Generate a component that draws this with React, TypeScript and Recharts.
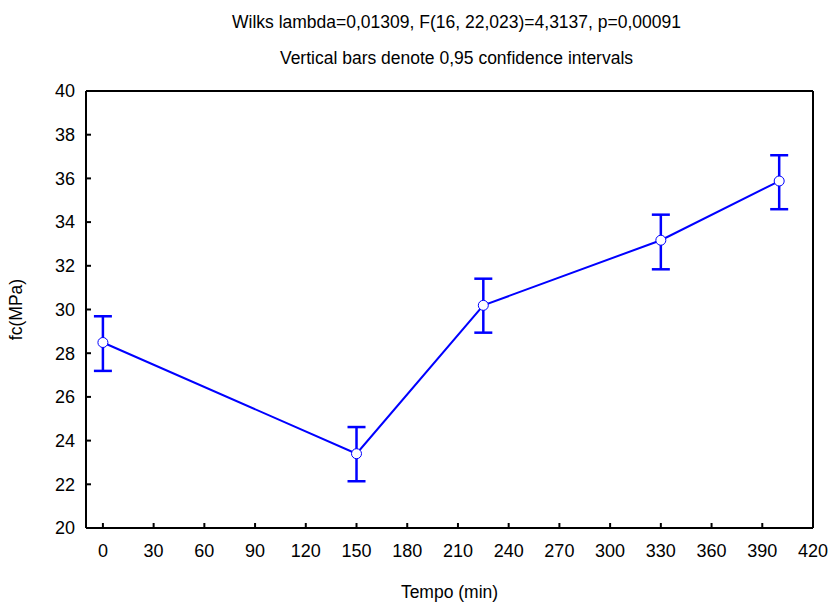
import React from "react";
import { LineChart, Line, XAxis, YAxis, ErrorBar, Label } from "recharts";

const times = [0, 150, 225, 330, 400];
const means = [28.49, 23.4, 30.19, 33.17, 35.88];
const lower = [27.19, 22.14, 28.94, 31.84, 34.59];
const upper = [29.69, 24.62, 31.41, 34.34, 37.06];
const xTicks = [0, 30, 60, 90, 120, 150, 180, 210, 240, 270, 300, 330, 360, 390, 420];
const yTicks = [20, 22, 24, 26, 28, 30, 32, 34, 36, 38, 40];
const titleLines = [
  "Wilks lambda=0,01309, F(16, 22,023)=4,3137, p=0,00091",
  "Vertical bars denote 0,95 confidence intervals",
];

const data = times.map((t, i) => ({
  t,
  fc: means[i],
  ci: [means[i] - lower[i], upper[i] - means[i]],
}));

const BLUE = "#0000ff";
const font = "'Liberation Sans', Arial, sans-serif";
const tickStyle = { fontSize: 18, fill: "#000", fontFamily: font };

const Title = ({ viewBox }: any) => {
  const cx = viewBox.x + viewBox.width / 2;
  return (
    <g>
      {titleLines.map((s, i) => (
        <text key={i} x={cx + 7} y={28 + i * 36} textAnchor="middle" fontSize={17.5} fill="#000" fontFamily={font}>
          {s}
        </text>
      ))}
    </g>
  );
};

export default function App() {
  return (
    <div style={{ position: "absolute", left: 0, top: 0, background: "#fff" }}>
      <LineChart width={832} height={606} data={data} margin={{ top: 90, right: 18, bottom: 48, left: 0 }}>
        <XAxis xAxisId="b" dataKey="t" type="number" domain={[-10, 420]} ticks={xTicks} allowDataOverflow
          height={30} tickSize={-5} tickMargin={21} tick={tickStyle} stroke="#000" strokeWidth={2}>
          <Label value="Tempo (min)" position="insideBottom" offset={-40} style={{ fontSize: 17.5, fill: "#000", fontFamily: font }} />
        </XAxis>
        <XAxis xAxisId="t" orientation="top" dataKey="t" type="number" domain={[-10, 420]} ticks={xTicks} allowDataOverflow
          height={1} tickSize={-5} tick={false} stroke="#000" strokeWidth={2}>
          <Label content={<Title />} />
        </XAxis>
        <YAxis yAxisId="l" type="number" domain={[20, 40]} ticks={yTicks} allowDataOverflow
          width={86} tickSize={-5} tickMargin={16} tick={tickStyle} stroke="#000" strokeWidth={2}>
          <Label value="fc(MPa)" angle={-90} position="insideLeft" offset={16} style={{ fontSize: 17.5, fill: "#000", fontFamily: font, textAnchor: "middle" }} />
        </YAxis>
        <YAxis yAxisId="r" orientation="right" type="number" domain={[20, 40]} ticks={yTicks} allowDataOverflow
          width={1} tickSize={-5} tick={false} stroke="#000" strokeWidth={2} />
        <Line xAxisId="b" yAxisId="l" type="linear" dataKey="fc" stroke={BLUE} strokeWidth={2}
          dot={{ r: 5, fill: "#fff", stroke: BLUE, strokeWidth: 1 }} isAnimationActive={false}>
          <ErrorBar dataKey="ci" direction="y" width={9} stroke={BLUE} strokeWidth={2.5} isAnimationActive={false} />
        </Line>
      </LineChart>
    </div>
  );
}
